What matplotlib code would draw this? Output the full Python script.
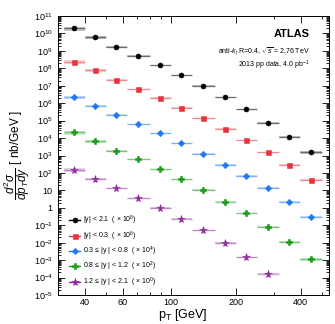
import numpy as np
import matplotlib
matplotlib.use('Agg')
import matplotlib.pyplot as plt
from matplotlib.ticker import FixedLocator, LogLocator, FuncFormatter, NullFormatter
from matplotlib.lines import Line2D

plt.rcParams['font.family'] = ['Liberation Sans', 'DejaVu Sans']
plt.rcParams['mathtext.fontset'] = 'custom'
plt.rcParams['mathtext.rm'] = 'Liberation Sans'
plt.rcParams['mathtext.it'] = 'Liberation Sans:italic'
plt.rcParams['mathtext.bf'] = 'Liberation Sans:bold'

# --- Data ---
pt_edges = [32, 40, 50, 63, 80, 100, 125, 160, 200, 250, 316, 398, 500]

y_all = [1.96e10, 6.0e9, 1.74e9, 5.1e8, 1.48e8, 4.0e7, 9.7e6, 2.2e6, 4.5e5, 7.6e4, 1.2e4, 1.5e3]
y_03 = [2.3e8, 7.8e7, 2.1e7, 6.3e6, 2.0e6, 5.3e5, 1.35e5, 3.3e4, 7.4e3, 1.5e3, 290, 40]
y_03_08 = [2.2e6, 6.9e5, 2.1e5, 6.2e4, 1.9e4, 5.0e3, 1.2e3, 295, 68, 14, 2.1, 0.29]
y_08_12 = [2.1e4, 6.5e3, 1.9e3, 600, 162, 44, 10.5, 2.3, 0.49, 0.083, 0.0115, 1.1e-3]
y_12_21 = [148, 45, 13, 3.5, 1.0, 0.24, 0.051, 9.5e-3, 1.45e-3, 1.7e-4]

# rough relative systematic uncertainty per pT bin
sys_rel = [0.25, 0.16, 0.12, 0.1, 0.09, 0.09, 0.09, 0.1, 0.1, 0.11, 0.12, 0.14]

labels = ['|y| < 2.1  ( \u00d7 10$^{8}$)',
          '|y| < 0.3  ( \u00d7 10$^{6}$)',
          '0.3 \u2264 |y | < 0.8  ( \u00d7 10$^{4}$)',
          '0.8 \u2264 |y | < 1.2  ( \u00d7 10$^{2}$)',
          '1.2 \u2264 |y | < 2.1  ( \u00d7 10$^{0}$)']
colors = ['black', '#e8323c', '#1f78f0', '#1a9a1a', '#8e2a9c']
markers = ['o', 's', 'D', 'P', '*']
msizes = [3.6, 3.6, 3.3, 4.3, 5.8]
series = [y_all, y_03, y_03_08, y_08_12, y_12_21]

edges = np.array(pt_edges, dtype=float)
centers = np.sqrt(edges[:-1] * edges[1:])

fig = plt.figure(figsize=(3.35, 3.24), dpi=100)
ax = fig.add_axes([0.172, 0.0895, 0.81, 0.861])

handles = []
for yv, c, m, ms, lab in zip(series, colors, markers, msizes, labels):
    yv = np.array(yv)
    n = len(yv)
    lo = edges[:n]
    hi = edges[1:n + 1]
    err = np.array(sys_rel[:n])
    # systematic boxes spanning the bin
    ax.bar(lo, yv * 2 * err, bottom=yv * (1 - err), width=hi - lo, align='edge',
           color=c, alpha=0.22, linewidth=0, zorder=1)
    # bin width line
    ax.hlines(yv, lo, hi, color=c, alpha=0.45, linewidth=1.0, zorder=2)
    ax.plot(centers[:n], yv, linestyle='none', marker=m, color=c, markersize=ms,
            markeredgewidth=0.4, zorder=3)
    handles.append(Line2D([0], [0], color=c, marker=m, markersize=ms, linewidth=1.0,
                          markeredgewidth=0.4))

ax.set_xscale('log')
ax.set_yscale('log')
ax.set_xlim(30, 540)
ax.set_ylim(1e-5, 1e11)

ax.xaxis.set_major_locator(FixedLocator([40, 60, 100, 200, 400]))
ax.xaxis.set_major_formatter(FuncFormatter(lambda v, p: '%d' % v))
ax.xaxis.set_minor_locator(LogLocator(base=10, subs=np.arange(2, 10), numticks=20))
ax.xaxis.set_minor_formatter(NullFormatter())


def yfmt(v, pos):
    n = int(round(np.log10(v)))
    if n == 0:
        return '1'
    if n == 1:
        return '10'
    return r'$10^{%d}$' % n


ax.yaxis.set_major_locator(LogLocator(base=10, numticks=30))
ax.yaxis.set_major_formatter(FuncFormatter(yfmt))
ax.yaxis.set_minor_locator(LogLocator(base=10, subs=np.arange(2, 10), numticks=30))
ax.yaxis.set_minor_formatter(NullFormatter())

ax.tick_params(which='both', direction='in', top=True, right=True, labelsize=6.5, width=0.6)
ax.tick_params(which='major', length=5)
ax.tick_params(which='minor', length=2.5)
ax.tick_params(axis='x', pad=2.5)
for s in ax.spines.values():
    s.set_linewidth(0.7)

ax.set_xlabel(r'p$_{\rm T}$ [GeV]', fontsize=9, va='center')
ax.xaxis.set_label_coords(0.46, -0.072)
ax.set_ylabel(r'$\dfrac{d^{2}\sigma}{dp_{T}dy}$ [ nb/GeV ]', fontsize=8.5, va='center')
ax.yaxis.set_label_coords(-0.15, 0.5)

ax.text(0.93, 0.935, 'ATLAS', transform=ax.transAxes, fontsize=8, fontweight='bold',
        ha='right', va='center')
ax.text(0.93, 0.875, r'anti-$k_t$ R=0.4, $\sqrt{s}$ = 2.76 TeV', transform=ax.transAxes,
        fontsize=5, ha='right', va='center')
ax.text(0.93, 0.825, r'2013 pp data, 4.0 pb$^{-1}$', transform=ax.transAxes,
        fontsize=5, ha='right', va='center')

ax.legend(handles, labels, loc='lower left', bbox_to_anchor=(0.02, 0.0), frameon=False,
          fontsize=5, handlelength=1.6, handletextpad=0.4, labelspacing=0.3)

fig.savefig('out.png', dpi=100)
